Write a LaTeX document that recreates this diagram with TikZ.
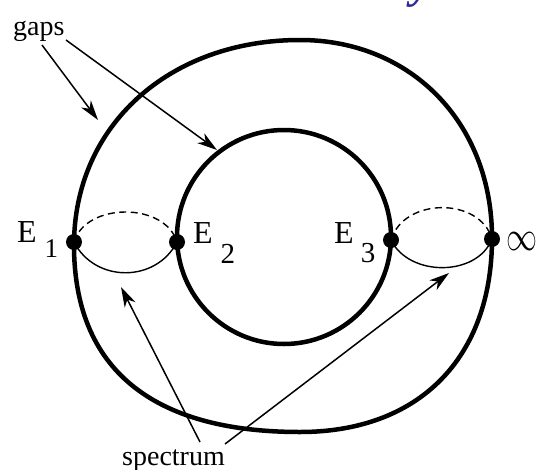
\documentclass[tikz,border=0pt]{standalone}
\usepackage{fontspec}
\setmainfont{Liberation Serif}
\usetikzlibrary{arrows.meta}
\definecolor{titleblue}{RGB}{45,45,150}
\begin{document}
\begin{tikzpicture}[x=1pt,y=-1pt,
  thickline/.style={line width=4.5pt},
  thinline/.style={line width=1.4pt},
  dashline/.style={line width=1.4pt,dash pattern=on 7pt off 4.5pt},
  pointer/.style={line width=1.5pt,-{Stealth[length=20pt,width=12pt,inset=6pt]}},
  dot/.style={circle,fill=black,inner sep=0pt,minimum size=16pt},
  lbl/.style={inner sep=0pt,anchor=base west,font=\fontsize{28}{28}\selectfont},
  elbl/.style={inner sep=0pt,anchor=base west,font=\fontsize{32}{32}\selectfont}]
\useasboundingbox (0,0) rectangle (541,469);
% partial blue glyph at the top edge
\node[inner sep=0pt,anchor=base,text=titleblue,font=\fontsize{46}{46}\selectfont\bfseries\itshape] (title) at (422,-3) {y};
% outer curve
\draw[thickline] (300,40) .. controls (411,40) and (492,123) .. (492,238)
  .. controls (492,358) and (419,432) .. (300,432)
  .. controls (151,432) and (74,368) .. (74,245)
  .. controls (74,126) and (169,40) .. cycle;
% inner circle
\draw[thickline] (284,237) circle[radius=107];
% points
\node[dot] (e1) at (74,242) {};
\node[dot] (e2) at (177,242) {};
\node[dot] (e3) at (391,240) {};
\node[dot] (inf) at (492,239) {};
% cycles
\draw[dashline] (e1.center) .. controls (86,202) and (165,202) .. (e2.center);
\draw[thinline] (e1.center) .. controls (95,283) and (156,283) .. (e2.center);
\draw[dashline] (e3.center) .. controls (404,197) and (480,197) .. (inf.center);
\draw[thinline] (e3.center) .. controls (409,277) and (477,277) .. (inf.center);
% labels
\node[elbl] (le1) at (17,242) {E\hspace{8pt}\raisebox{-15pt}{\fontsize{27}{27}\selectfont 1}};
\node[elbl] (le2) at (193,243) {E\hspace{8pt}\raisebox{-20pt}{\fontsize{29}{29}\selectfont 2}};
\node[elbl] (le3) at (334,243) {E\hspace{7pt}\raisebox{-19pt}{\fontsize{29}{29}\selectfont 3}};
\node[inner sep=0pt] (linf) at (522,241) {\resizebox{31pt}{18pt}{$\infty$}};
\node[lbl] (gaps) at (13,35) {gaps};
\node[lbl] (spec) at (122,465) {spectrum};
% arrow end points
\coordinate (g1s) at (42,45);
\coordinate (g1e) at (98,120);
\coordinate (g2s) at (66,40);
\coordinate (g2e) at (217,150);
\coordinate (s1s) at (200,442);
\coordinate (s1e) at (121,287);
\coordinate (s2s) at (225,444);
\coordinate (s2e) at (449,273);
\draw[pointer] (g1s) -- (g1e);
\draw[pointer] (g2s) -- (g2e);
\draw[pointer] (s1s) -- (s1e);
\draw[pointer] (s2s) -- (s2e);
\end{tikzpicture}
\end{document}
